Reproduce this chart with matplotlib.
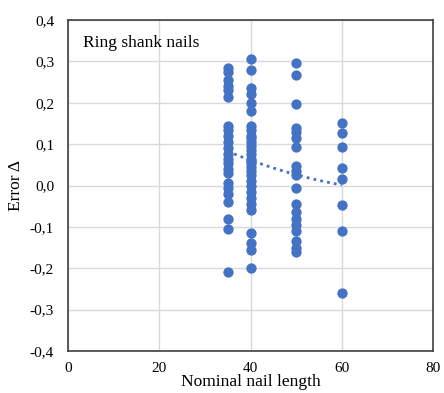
import numpy as np
import matplotlib
matplotlib.use("Agg")
import matplotlib.pyplot as plt
from matplotlib.ticker import FuncFormatter

plt.rcParams['font.family'] = ['Liberation Serif', 'DejaVu Serif']

# nominal nail length and error values, per column
len35 = [35] * 22
err35 = [0.285, 0.275, 0.255, 0.24, 0.23, 0.215,
         0.145, 0.135, 0.12, 0.105, 0.09, 0.075, 0.065, 0.055, 0.04, 0.03,
         0.005, -0.005, -0.02, -0.04, -0.08, -0.105]
len35b = [35]
err35b = [-0.21]

len40 = [40] * 30
err40 = [0.305, 0.28, 0.235, 0.22, 0.2, 0.18,
         0.145, 0.135, 0.12, 0.105, 0.095, 0.085, 0.075, 0.065, 0.055, 0.045,
         0.035, 0.025, 0.01, -0.015, -0.03, -0.045, -0.06,
         -0.115, -0.14, -0.155, -0.2, 0.115, 0.06, 0.0]

len50 = [50] * 19
err50 = [0.297, 0.268, 0.197, 0.14, 0.13, 0.115, 0.092,
         0.048, 0.035, 0.025, -0.005, -0.045, -0.065, -0.08, -0.095, -0.11,
         -0.135, -0.15, -0.16]

len60 = [60] * 8
err60 = [0.15, 0.128, 0.092, 0.042, 0.015, -0.048, -0.11, -0.26]

x = np.array(len35 + len35b + len40 + len50 + len60, dtype=float)
y = np.array(err35 + err35b + err40 + err50 + err60)

fig = plt.figure(figsize=(4.44, 3.93), dpi=100)
ax = fig.add_axes([68 / 444, 42 / 393, 365 / 444, 331 / 393])

ax.scatter(x, y, s=55, color='#4472C4', zorder=3, linewidths=0)

# polynomial trend line (2nd order)
coef = np.polyfit(x, y, 2)
xt = np.linspace(35, 60, 100)
ax.plot(xt, np.polyval(coef, xt), linestyle=(0, (1, 1.5)), color='#4472C4',
        linewidth=2, zorder=2)

ax.set_xlim(0, 80)
ax.set_ylim(-0.4, 0.4)
ax.set_xticks([0, 20, 40, 60, 80])
ax.set_yticks(np.arange(-0.4, 0.41, 0.1))
ax.yaxis.set_major_formatter(FuncFormatter(lambda v, p: f"{v:.1f}".replace('.', ',').replace('-0,0', '0,0')))
ax.grid(True, color='#d9d9d9', linewidth=1, zorder=0)
ax.tick_params(length=0, labelsize=11)
ax.tick_params(axis='y', pad=10)
ax.tick_params(axis='x', pad=8)
for s in ax.spines.values():
    s.set_color('#404040')
    s.set_linewidth(1.2)

ax.set_xlabel('Nominal nail length', fontsize=12.5, labelpad=-1)
ax.set_ylabel('Error Δ', fontsize=12.5, labelpad=4)
ax.text(0.04, 0.93, 'Ring shank nails', transform=ax.transAxes, fontsize=12.5,
        va='center', ha='left')

fig.savefig('out.png', dpi=100)
